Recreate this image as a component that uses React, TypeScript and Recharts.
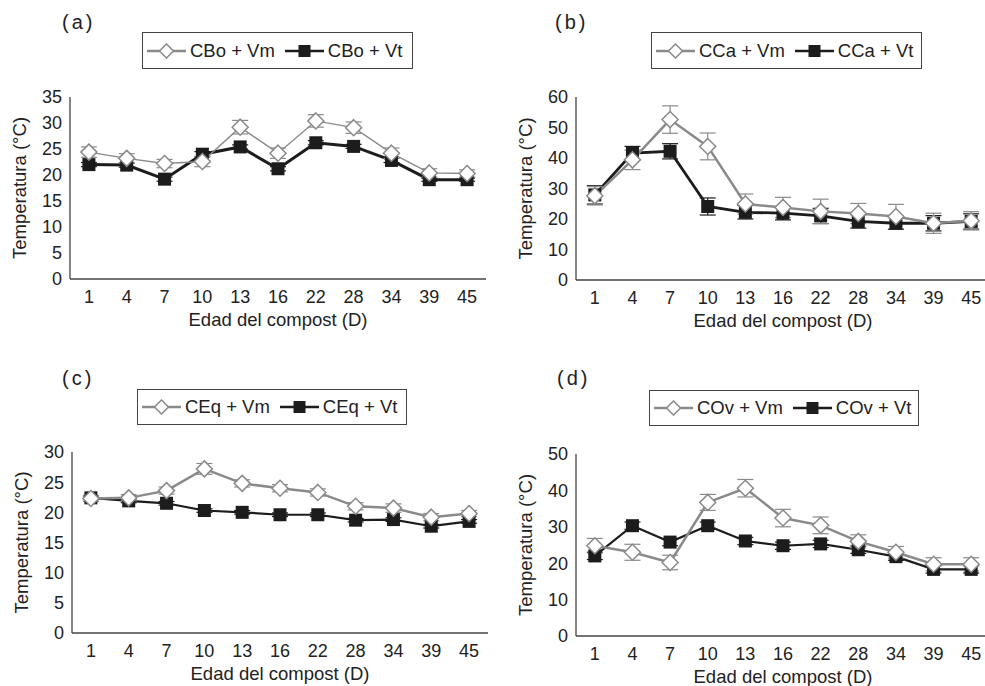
import { ErrorBar, Label, Line, LineChart, XAxis, YAxis } from "recharts";

const DAYS = ["1", "4", "7", "10", "13", "16", "22", "28", "34", "39", "45"];

// (a) bovino
const CBO_VM = [24.4, 23.2, 22.2, 22.6, 29.2, 24.2, 30.4, 29.1, 24.2, 20.4, 20.3];
const CBO_VT = [22.0, 21.9, 19.2, 24.0, 25.4, 21.2, 26.2, 25.5, 22.8, 19.1, 19.1];
const CBO_VM_ERR = [1.0, 0.9, 0.8, 1.0, 1.3, 1.0, 1.2, 1.1, 1.0, 0.8, 0.7];
const CBO_VT_ERR = [0.4, 0.4, 0.4, 0.5, 0.4, 0.4, 0.4, 0.4, 0.4, 0.3, 0.3];

// (b) caprino
const CCA_VM = [27.6, 39.4, 52.6, 43.8, 24.9, 23.8, 22.5, 21.8, 20.8, 18.6, 19.4];
const CCA_VT = [27.9, 41.6, 42.2, 24.1, 22.2, 21.9, 21.0, 19.2, 18.6, 18.6, 19.2];
const CCA_VM_ERR = [3.0, 3.2, 4.5, 4.4, 3.3, 3.3, 4.0, 3.3, 4.0, 3.3, 3.0];
const CCA_VT_ERR = [3.0, 2.2, 2.5, 2.8, 2.2, 2.2, 2.5, 2.2, 2.0, 2.5, 2.5];

// (c) equino
const CEQ_VM = [22.3, 22.4, 23.6, 27.2, 24.8, 24.0, 23.3, 21.0, 20.7, 19.2, 19.8];
const CEQ_VT = [22.4, 21.9, 21.5, 20.3, 20.0, 19.6, 19.6, 18.7, 18.8, 17.7, 18.5];
const CEQ_VM_ERR = [0.5, 0.5, 0.6, 0.9, 0.6, 0.6, 0.6, 0.6, 0.7, 0.6, 0.5];
const CEQ_VT_ERR = [0.3, 0.3, 0.3, 0.3, 0.3, 0.3, 0.3, 0.3, 0.3, 0.3, 0.3];

// (d) ovino
const COV_VM = [24.8, 23.0, 20.2, 36.7, 40.6, 32.4, 30.4, 26.0, 23.0, 19.7, 19.7];
const COV_VT = [22.0, 30.3, 25.8, 30.3, 26.1, 24.8, 25.3, 23.7, 21.8, 18.3, 18.3];
const COV_VM_ERR = [2.0, 2.2, 2.0, 2.2, 2.4, 2.4, 2.3, 1.8, 1.6, 1.8, 1.8];
const COV_VT_ERR = [1.0, 1.0, 1.0, 1.0, 1.0, 1.0, 1.0, 1.0, 1.0, 1.0, 1.0];

const TICKS_35 = [0, 5, 10, 15, 20, 25, 30, 35];
const TICKS_60 = [0, 10, 20, 30, 40, 50, 60];
const TICKS_30 = [0, 5, 10, 15, 20, 25, 30];
const TICKS_50 = [0, 10, 20, 30, 40, 50];

const FONT = '"Liberation Sans", Arial, sans-serif';
const GREY = "#8a8a8a";
const BLACK = "#1c1c1c";
const TEXT = "#222";
const AXIS = "#444";

function rows(vm: number[], vt: number[], vmErr: number[], vtErr: number[]) {
  return DAYS.map((day, i) => ({ day, vm: vm[i], vt: vt[i], vmErr: vmErr[i], vtErr: vtErr[i] }));
}

function diamond(p: any) {
  const { cx, cy, index } = p;
  if (cx == null || cy == null) return <g key={`vm-${index}`} />;
  const r = 8;
  return (
    <path
      key={`vm-${index}`}
      d={`M${cx} ${cy - r} L${cx + r} ${cy} L${cx} ${cy + r} L${cx - r} ${cy} Z`}
      fill="#fff"
      stroke={GREY}
      strokeWidth={1.5}
    />
  );
}

function square(p: any) {
  const { cx, cy, index } = p;
  if (cx == null || cy == null) return <g key={`vt-${index}`} />;
  return <rect key={`vt-${index}`} x={cx - 6.5} y={cy - 6.5} width={13} height={13} fill={BLACK} />;
}

type PanelProps = {
  left: number;
  top: number;
  width: number;
  height: number;
  plotLeft: number;
  plotTop: number;
  plotBottom: number;
  plotRight: number;
  data: ReturnType<typeof rows>;
  max: number;
  ticks: number[];
  vmWidth: number;
  vtWidth: number;
};

function Panel(props: PanelProps) {
  const { left, top, width, height, plotLeft, plotTop, plotBottom, plotRight, data, max, ticks } = props;
  const pad = (plotRight - plotLeft) / 22;
  return (
    <div style={{ position: "absolute", left, top }}>
      <LineChart
        width={width}
        height={height}
        data={data}
        margin={{ top: plotTop, right: width - plotRight, bottom: height - plotBottom - 50, left: 0 }}
      >
        <XAxis
          dataKey="day"
          interval={0}
          height={50}
          padding={{ left: pad, right: pad }}
          tickLine={false}
          tickMargin={5}
          axisLine={{ stroke: AXIS, strokeWidth: 1.3 }}
          tick={{ fontSize: 18, fill: TEXT, fontFamily: FONT }}
          label={
            <Label
              content={({ viewBox }: any) => (
                <text
                  x={viewBox.x + viewBox.width / 2}
                  y={viewBox.y + 47}
                  textAnchor="middle"
                  fontSize={18.5}
                  fill={TEXT}
                  fontFamily={FONT}
                >
                  Edad del compost (D)
                </text>
              )}
            />
          }
        />
        <YAxis
          type="number"
          domain={[0, max]}
          ticks={ticks}
          width={plotLeft}
          tickLine={false}
          axisLine={{ stroke: AXIS, strokeWidth: 1.3 }}
          tick={{ fontSize: 18, fill: TEXT, fontFamily: FONT }}
          label={
            <Label
              content={({ viewBox }: any) => {
                const x = viewBox.x + viewBox.width - 44;
                const y = viewBox.y + viewBox.height / 2;
                return (
                  <text
                    x={x}
                    y={y}
                    transform={`rotate(-90 ${x} ${y})`}
                    textAnchor="middle"
                    fontSize={18.5}
                    fill={TEXT}
                    fontFamily={FONT}
                  >
                    Temperatura (°C)
                  </text>
                );
              }}
            />
          }
        />
        <Line
          dataKey="vt"
          stroke={BLACK}
          strokeWidth={props.vtWidth}
          dot={square}
          activeDot={false}
          isAnimationActive={false}
        >
          <ErrorBar dataKey="vtErr" width={8} stroke={BLACK} strokeWidth={1.2} direction="y" />
        </Line>
        <Line
          dataKey="vm"
          stroke={GREY}
          strokeWidth={props.vmWidth}
          dot={diamond}
          activeDot={false}
          isAnimationActive={false}
        >
          <ErrorBar dataKey="vmErr" width={8} stroke={GREY} strokeWidth={1.2} direction="y" />
        </Line>
      </LineChart>
    </div>
  );
}

function LegendBox({ x, y, w, h, vm, vt }: { x: number; y: number; w: number; h: number; vm: string; vt: string }) {
  const item = { display: "flex", alignItems: "center" } as const;
  return (
    <div
      style={{
        position: "absolute",
        left: x,
        top: y,
        width: w,
        height: h,
        boxSizing: "border-box",
        border: `1.5px solid ${AXIS}`,
        display: "flex",
        alignItems: "center",
        paddingLeft: 4,
        fontFamily: FONT,
        fontSize: 18.5,
        color: TEXT,
        whiteSpace: "nowrap",
      }}
    >
      <span style={item}>
        <svg width={39} height={16}>
          <line x1={0} y1={8} x2={39} y2={8} stroke={GREY} strokeWidth={2.5} />
          <path d="M19.5 1 L26.5 8 L19.5 15 L12.5 8 Z" fill="#fff" stroke={GREY} strokeWidth={1.5} />
        </svg>
        <span style={{ marginLeft: 4 }}>{vm}</span>
      </span>
      <span style={{ ...item, marginLeft: 10 }}>
        <svg width={39} height={16}>
          <line x1={0} y1={8} x2={39} y2={8} stroke={BLACK} strokeWidth={2.5} />
          <rect x={13.5} y={2} width={12} height={12} fill={BLACK} />
        </svg>
        <span style={{ marginLeft: 4 }}>{vt}</span>
      </span>
    </div>
  );
}

function Letter({ x, y, text }: { x: number; y: number; text: string }) {
  return (
    <div
      style={{
        position: "absolute",
        left: x,
        top: y,
        fontFamily: FONT,
        fontSize: 20,
        letterSpacing: 3,
        color: TEXT,
        lineHeight: "20px",
      }}
    >
      {text}
    </div>
  );
}

export default function App() {
  return (
    <div
      style={{
        position: "absolute",
        left: 0,
        top: 0,
        width: 985,
        height: 686,
        overflow: "hidden",
        background: "#fff",
      }}
    >
      <Panel
        left={0}
        top={0}
        width={490}
        height={340}
        plotLeft={70}
        plotTop={97}
        plotBottom={279}
        plotRight={486}
        data={rows(CBO_VM, CBO_VT, CBO_VM_ERR, CBO_VT_ERR)}
        max={35}
        ticks={TICKS_35}
        vmWidth={1.4}
        vtWidth={3}
      />
      <Panel
        left={490}
        top={0}
        width={502}
        height={340}
        plotLeft={86}
        plotTop={97}
        plotBottom={280}
        plotRight={500}
        data={rows(CCA_VM, CCA_VT, CCA_VM_ERR, CCA_VT_ERR)}
        max={60}
        ticks={TICKS_60}
        vmWidth={2.5}
        vtWidth={2.8}
      />
      <Panel
        left={0}
        top={340}
        width={490}
        height={346}
        plotLeft={72}
        plotTop={112}
        plotBottom={293}
        plotRight={488}
        data={rows(CEQ_VM, CEQ_VT, CEQ_VM_ERR, CEQ_VT_ERR)}
        max={30}
        ticks={TICKS_30}
        vmWidth={2.5}
        vtWidth={2.2}
      />
      <Panel
        left={490}
        top={340}
        width={502}
        height={346}
        plotLeft={86}
        plotTop={114}
        plotBottom={296}
        plotRight={500}
        data={rows(COV_VM, COV_VT, COV_VM_ERR, COV_VT_ERR)}
        max={50}
        ticks={TICKS_50}
        vmWidth={2.5}
        vtWidth={2.2}
      />

      <Letter x={62} y={12} text="(a)" />
      <Letter x={555} y={12} text="(b)" />
      <Letter x={62} y={368} text="(c)" />
      <Letter x={557} y={368} text="(d)" />

      <LegendBox x={142} y={32} w={271} h={37} vm="CBo + Vm" vt="CBo + Vt" />
      <LegendBox x={651} y={32} w={271} h={37} vm="CCa + Vm" vt="CCa + Vt" />
      <LegendBox x={137} y={389} w={270} h={36} vm="CEq + Vm" vt="CEq + Vt" />
      <LegendBox x={649} y={390} w={270} h={36} vm="COv + Vm" vt="COv + Vt" />
    </div>
  );
}
